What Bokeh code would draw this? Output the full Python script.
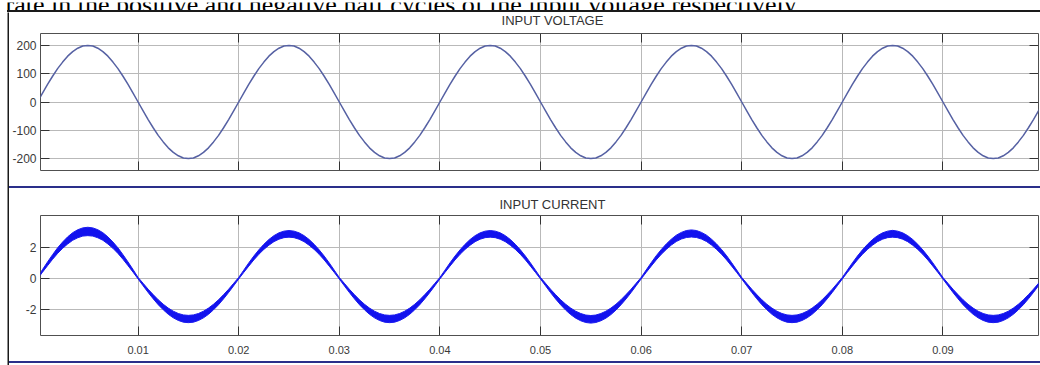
from bokeh.plotting import figure
from bokeh.layouts import column, row
from bokeh.models import Range1d, LinearAxis, FixedTicker, Spacer
from bokeh.embed import file_html
from bokeh.resources import INLINE
from bokeh.core.properties import value

time_s = [i / 2000 for i in range(201)]

voltage = [
    0, 31, 62, 91, 118, 141, 162, 178, 190, 198, 200, 198, 190, 178, 162, 141, 118, 91, 62, 31,
    0, -31, -62, -91, -118, -141, -162, -178, -190, -198, -200, -198, -190, -178, -162, -141, -118, -91, -62, -31,
    0, 31, 62, 91, 118, 141, 162, 178, 190, 198, 200, 198, 190, 178, 162, 141, 118, 91, 62, 31,
    0, -31, -62, -91, -118, -141, -162, -178, -190, -198, -200, -198, -190, -178, -162, -141, -118, -91, -62, -31,
    0, 31, 62, 91, 118, 141, 162, 178, 190, 198, 200, 198, 190, 178, 162, 141, 118, 91, 62, 31,
    0, -31, -62, -91, -118, -141, -162, -178, -190, -198, -200, -198, -190, -178, -162, -141, -118, -91, -62, -31,
    0, 31, 62, 91, 118, 141, 162, 178, 190, 198, 200, 198, 190, 178, 162, 141, 118, 91, 62, 31,
    0, -31, -62, -91, -118, -141, -162, -178, -190, -198, -200, -198, -190, -178, -162, -141, -118, -91, -62, -31,
    0, 31, 62, 91, 118, 141, 162, 178, 190, 198, 200, 198, 190, 178, 162, 141, 118, 91, 62, 31,
    0, -31, -62, -91, -118, -141, -162, -178, -190, -198, -200, -198, -190, -178, -162, -141, -118, -91, -62, -31,
    0,
]

# upper and lower edges of the (ripple-thickened) current trace
current_upper = [
    0.05, 0.56, 1.05, 1.52, 1.96, 2.34, 2.67, 2.94, 3.13, 3.25, 3.29, 3.25, 3.13, 2.94, 2.67, 2.34, 1.96, 1.52, 1.05, 0.56,
    0.05, -0.33, -0.71, -1.06, -1.39, -1.68, -1.93, -2.13, -2.28, -2.37, -2.40, -2.37, -2.28, -2.13, -1.93, -1.68, -1.39, -1.06, -0.71, -0.33,
    0.05, 0.52, 0.99, 1.43, 1.83, 2.19, 2.50, 2.75, 2.93, 3.04, 3.08, 3.04, 2.93, 2.75, 2.50, 2.19, 1.83, 1.43, 0.99, 0.52,
    0.05, -0.33, -0.71, -1.06, -1.39, -1.68, -1.93, -2.13, -2.28, -2.37, -2.40, -2.37, -2.28, -2.13, -1.93, -1.68, -1.39, -1.06, -0.71, -0.33,
    0.05, 0.52, 0.99, 1.43, 1.83, 2.19, 2.50, 2.75, 2.93, 3.04, 3.08, 3.04, 2.93, 2.75, 2.50, 2.19, 1.83, 1.43, 0.99, 0.52,
    0.05, -0.33, -0.71, -1.06, -1.39, -1.68, -1.93, -2.13, -2.28, -2.38, -2.41, -2.38, -2.28, -2.13, -1.93, -1.68, -1.39, -1.06, -0.71, -0.33,
    0.05, 0.53, 1.00, 1.45, 1.85, 2.21, 2.52, 2.78, 2.96, 3.08, 3.12, 3.08, 2.96, 2.78, 2.52, 2.21, 1.85, 1.45, 1.00, 0.53,
    0.05, -0.33, -0.71, -1.06, -1.39, -1.68, -1.93, -2.13, -2.28, -2.37, -2.40, -2.37, -2.28, -2.13, -1.93, -1.68, -1.39, -1.06, -0.71, -0.33,
    0.05, 0.52, 0.99, 1.43, 1.83, 2.19, 2.50, 2.75, 2.93, 3.04, 3.09, 3.04, 2.93, 2.75, 2.50, 2.19, 1.83, 1.43, 0.99, 0.52,
    0.05, -0.33, -0.71, -1.06, -1.39, -1.68, -1.93, -2.13, -2.28, -2.37, -2.40, -2.37, -2.28, -2.13, -1.93, -1.68, -1.39, -1.06, -0.71, -0.33,
    0.05,
]

current_lower = [
    -0.05, 0.39, 0.81, 1.22, 1.60, 1.93, 2.21, 2.45, 2.61, 2.72, 2.75, 2.72, 2.61, 2.45, 2.21, 1.93, 1.60, 1.22, 0.81, 0.39,
    -0.05, -0.49, -0.92, -1.33, -1.71, -2.04, -2.33, -2.56, -2.73, -2.84, -2.87, -2.84, -2.73, -2.56, -2.33, -2.04, -1.71, -1.33, -0.92, -0.49,
    -0.05, 0.37, 0.78, 1.18, 1.54, 1.86, 2.13, 2.36, 2.52, 2.62, 2.65, 2.62, 2.52, 2.36, 2.13, 1.86, 1.54, 1.18, 0.78, 0.37,
    -0.05, -0.49, -0.92, -1.33, -1.71, -2.04, -2.33, -2.56, -2.73, -2.84, -2.87, -2.84, -2.73, -2.56, -2.33, -2.04, -1.71, -1.33, -0.92, -0.49,
    -0.05, 0.37, 0.78, 1.18, 1.54, 1.86, 2.13, 2.36, 2.52, 2.62, 2.65, 2.62, 2.52, 2.36, 2.13, 1.86, 1.54, 1.18, 0.78, 0.37,
    -0.05, -0.49, -0.93, -1.34, -1.72, -2.06, -2.35, -2.58, -2.75, -2.86, -2.90, -2.86, -2.75, -2.58, -2.35, -2.06, -1.72, -1.34, -0.93, -0.49,
    -0.05, 0.37, 0.78, 1.18, 1.54, 1.86, 2.14, 2.37, 2.53, 2.63, 2.66, 2.63, 2.53, 2.37, 2.14, 1.86, 1.54, 1.18, 0.78, 0.37,
    -0.05, -0.49, -0.92, -1.33, -1.71, -2.04, -2.33, -2.56, -2.73, -2.84, -2.87, -2.84, -2.73, -2.56, -2.33, -2.04, -1.71, -1.33, -0.92, -0.49,
    -0.05, 0.37, 0.78, 1.18, 1.54, 1.86, 2.13, 2.36, 2.52, 2.62, 2.65, 2.62, 2.52, 2.36, 2.13, 1.86, 1.54, 1.18, 0.78, 0.37,
    -0.05, -0.49, -0.92, -1.33, -1.71, -2.04, -2.33, -2.56, -2.73, -2.84, -2.87, -2.84, -2.73, -2.56, -2.33, -2.04, -1.71, -1.33, -0.92, -0.49,
    -0.05,
]

x_ticks = [0.01, 0.02, 0.03, 0.04, 0.05, 0.06, 0.07, 0.08, 0.09]
x_tick_labels = ["0.01", "0.02", "0.03", "0.04", "0.05", "0.06", "0.07", "0.08", "0.09"]
voltage_ticks = [-200, -100, 0, 100, 200]
voltage_tick_labels = ["-200", "-100", "0", "100", "200"]
current_ticks = [-2, 0, 2]
current_tick_labels = ["-2", "0", "2"]
panel_titles = ["INPUT VOLTAGE", "INPUT CURRENT"]
caption = "rate in the positive and negative half cycles of the input voltage respectively."

SANS = "Liberation Sans"
TICK_COLOR = "#333333"
GRID_COLOR = "#b9b9b9"
LABEL_COLOR = "#3a3a3a"
RULE_BLACK = "#1a1a1a"
RULE_BLUE = "#2a2f8a"


def rule(w, h, color):
    return Spacer(width=w, height=h, styles={"background-color": color})


def bare(w, h, xr, yr):
    f = figure(width=w, height=h, x_range=xr, y_range=yr, title=None,
               x_axis_type=None, y_axis_type=None, toolbar_location=None,
               output_backend="svg", min_border=0, outline_line_color=None,
               background_fill_color="white", border_fill_color="white")
    f.xgrid.visible = False
    f.ygrid.visible = False
    return f


def title_strip(text, h, ty):
    f = bare(1031, h, Range1d(0, 1031), Range1d(h, 0))
    f.text(x=[529], y=[ty], text=[text], text_align="center", text_baseline="middle",
           text_font=value(SANS), text_font_size="13px", text_color="#333333")
    return f


def hidden_axis(axis, ticker):
    axis.ticker = ticker
    axis.major_label_text_font_size = "0px"
    axis.major_label_text_color = None
    axis.major_label_standoff = 0
    axis.axis_line_color = None
    axis.major_tick_in = 9
    axis.major_tick_out = 0
    axis.major_tick_line_color = TICK_COLOR
    axis.minor_tick_line_color = None


def shown_axis(axis, ticker, ticks, labels, size, standoff):
    axis.ticker = ticker
    axis.major_label_overrides = dict(zip(ticks, labels))
    axis.axis_line_color = None
    axis.major_tick_in = 9
    axis.major_tick_out = 0
    axis.major_tick_line_color = TICK_COLOR
    axis.minor_tick_line_color = None
    axis.major_label_standoff = standoff
    axis.major_label_text_font = SANS
    axis.major_label_text_font_size = size
    axis.major_label_text_color = LABEL_COLOR


def make_panel(height, ylo, yhi, yticks, ylabels, borders, show_xlabels):
    left, right, top, bottom = borders
    p = figure(width=1031, height=height, title=None,
               x_range=Range1d(0.0003, 0.0995), y_range=Range1d(ylo, yhi),
               output_backend="svg", toolbar_location=None,
               min_border_left=left, min_border_right=right,
               min_border_top=top, min_border_bottom=bottom,
               background_fill_color="white", border_fill_color="white",
               outline_line_color="#505050", outline_line_width=1)
    xt = FixedTicker(ticks=x_ticks)
    yt = FixedTicker(ticks=yticks)
    p.add_layout(LinearAxis(), "above")
    p.add_layout(LinearAxis(), "right")
    shown_axis(p.left[0], yt, yticks, ylabels, "12px", 4)
    hidden_axis(p.right[0], yt)
    hidden_axis(p.above[0], xt)
    if show_xlabels:
        shown_axis(p.below[0], xt, x_ticks, x_tick_labels, "11px", 10)
    else:
        hidden_axis(p.below[0], xt)
    p.xgrid.ticker = xt
    p.ygrid.ticker = yt
    p.xgrid.grid_line_color = GRID_COLOR
    p.ygrid.grid_line_color = GRID_COLOR
    return p


# ---- caption strip (text of the surrounding page, cut at the top) ----
cap = bare(1040, 10, Range1d(0, 1040), Range1d(10, 0))
cap.text(x=[5], y=[1.7], text=[caption], text_font=value("Liberation Serif"),
         text_font_size="26px", text_baseline="middle", text_align="left",
         text_color="#000000")

# ---- top panel: voltage ----
t1 = title_strip(panel_titles[0], 16, 8)
p1 = make_panel(158, -242, 242, voltage_ticks, voltage_tick_labels, (28, 2, 5, 16), False)
p1.line(time_s, voltage, line_color="#5661a3", line_width=1.5)

# ---- bottom panel: current ----
t2 = title_strip(panel_titles[1], 25, 16)
p2 = make_panel(148, -3.7, 4.05, current_ticks, current_tick_labels, (30, 2, 2, 26), True)
p2.varea(x=time_s, y1=current_lower, y2=current_upper, fill_color="#1212ee", fill_alpha=1)
p2.line(time_s, current_upper, line_color="#1a1aee", line_width=1)
p2.line(time_s, current_lower, line_color="#1a1aee", line_width=1)

# vertical page rule at the left
bar = figure(width=2, height=353, x_range=Range1d(0, 1), y_range=Range1d(0, 1), title=None,
             x_axis_type=None, y_axis_type=None, toolbar_location=None,
             output_backend="svg", min_border=0, outline_line_color=None,
             background_fill_color=RULE_BLACK, border_fill_color=RULE_BLACK)
bar.xgrid.visible = False
bar.ygrid.visible = False

panels = column(t1, p1, rule(1031, 2, RULE_BLUE), t2, p2, rule(1031, 2, RULE_BLUE), spacing=0)
body = row(Spacer(width=7, height=353), bar, panels, spacing=0)
top_rule = row(Spacer(width=7, height=2), rule(1033, 2, RULE_BLACK), spacing=0)
layout = column(cap, top_rule, body, spacing=0)

open("out.html", "w").write(file_html(layout, INLINE))
